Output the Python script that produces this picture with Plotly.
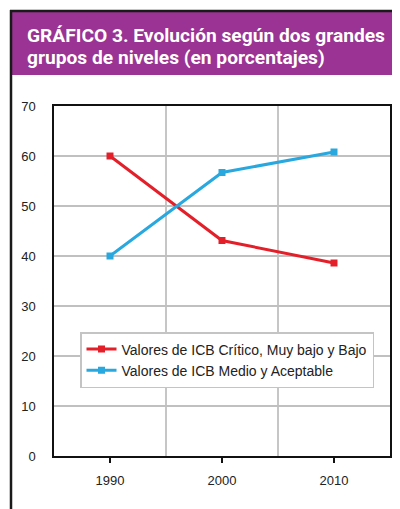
import plotly.graph_objects as go

years = ["1990", "2000", "2010"]
critico_bajo = [60.0, 43.1, 38.6]
medio_aceptable = [40.0, 56.7, 60.8]
y_ticks = [0, 10, 20, 30, 40, 50, 60, 70]
series_names = ["Valores de ICB Crítico, Muy bajo y Bajo", "Valores de ICB Medio y Aceptable"]
title_lines = ["GRÁFICO 3. Evolución según dos grandes", "grupos de niveles (en porcentajes)"]

OFF = 8  # page body margin
W, H = 400 - OFF, 509 - OFF
L, R, T, B = 54 - OFF, 390 - OFF, 106 - OFF, 456 - OFF
pw, ph = R - L, B - T

def px(x):
    return (x - OFF - L) / pw

def py(y):
    return (B - (y - OFF)) / ph

xs = list(range(len(years)))
fig = go.Figure()
fig.add_trace(go.Scatter(x=xs, y=critico_bajo, name=series_names[0], mode="lines+markers",
                         line=dict(color="#e3202a", width=3),
                         marker=dict(symbol="square", size=7, color="#e3202a")))
fig.add_trace(go.Scatter(x=xs, y=medio_aceptable, name=series_names[1], mode="lines+markers",
                         line=dict(color="#29a8df", width=3),
                         marker=dict(symbol="square", size=7, color="#29a8df")))

shapes = []
# header band
shapes.append(dict(type="rect", xref="paper", yref="paper", x0=px(12), x1=px(401), y0=py(75), y1=py(12),
                   fillcolor="#9a3393", line=dict(width=0), layer="below"))
shapes.append(dict(type="line", xref="paper", yref="paper", x0=px(10), x1=px(401), y0=py(11), y1=py(11),
                   line=dict(color="#1a1a1a", width=2.5)))
shapes.append(dict(type="line", xref="paper", yref="paper", x0=px(11), x1=px(11), y0=py(10), y1=py(510),
                   line=dict(color="#1a1a1a", width=2.5)))
# vertical gridlines between categories
for i in range(len(years) - 1):
    shapes.append(dict(type="line", xref="x", yref="paper", x0=i + 0.5, x1=i + 0.5, y0=0, y1=1,
                       line=dict(color="#a0a0a0", width=1.2), layer="below"))

fig.update_layout(shapes=shapes)

for i, t in enumerate(title_lines):
    fig.add_annotation(text=t, xref="paper", yref="paper", x=px(25), y=py(35 + 22 * i),
                       xanchor="left", yanchor="middle", showarrow=False,
                       font=dict(family="Roboto, sans-serif", size=19.2, color="white", weight="bold"))

fig.update_xaxes(range=[-0.5, len(years) - 0.5], tickvals=xs, ticktext=years,
                 showgrid=False, zeroline=False, showline=True, linecolor="#111", linewidth=1.5,
                 mirror=True, ticks="outside", ticklen=5, tickwidth=1.5, tickcolor="#111",
                 ticklabelstandoff=7,
                 tickfont=dict(family="Liberation Sans, Arial, sans-serif", size=13, color="#222"))
fig.update_yaxes(range=[0, 70], tickvals=y_ticks, showgrid=True, gridcolor="#c0c0c0", gridwidth=1.5,
                 zeroline=False, showline=True, linecolor="#111", linewidth=1.5, mirror=True,
                 ticks="", ticklabelstandoff=14,
                 tickfont=dict(family="Liberation Sans, Arial, sans-serif", size=13, color="#222"))

fig.update_layout(
    width=W, height=H,
    margin=dict(l=L, r=W - R, t=T, b=H - B, pad=0, autoexpand=False),
    paper_bgcolor="white", plot_bgcolor="white",
    showlegend=True,
    legend=dict(x=px(80), y=py(332), xanchor="left", yanchor="top",
                bgcolor="white", bordercolor="#c4c4c4", borderwidth=1.5,
                font=dict(family="Liberation Sans, Arial, sans-serif", size=14, color="#222"),
                itemwidth=30, tracegroupgap=0),
)

fig.write_html("out.html")
